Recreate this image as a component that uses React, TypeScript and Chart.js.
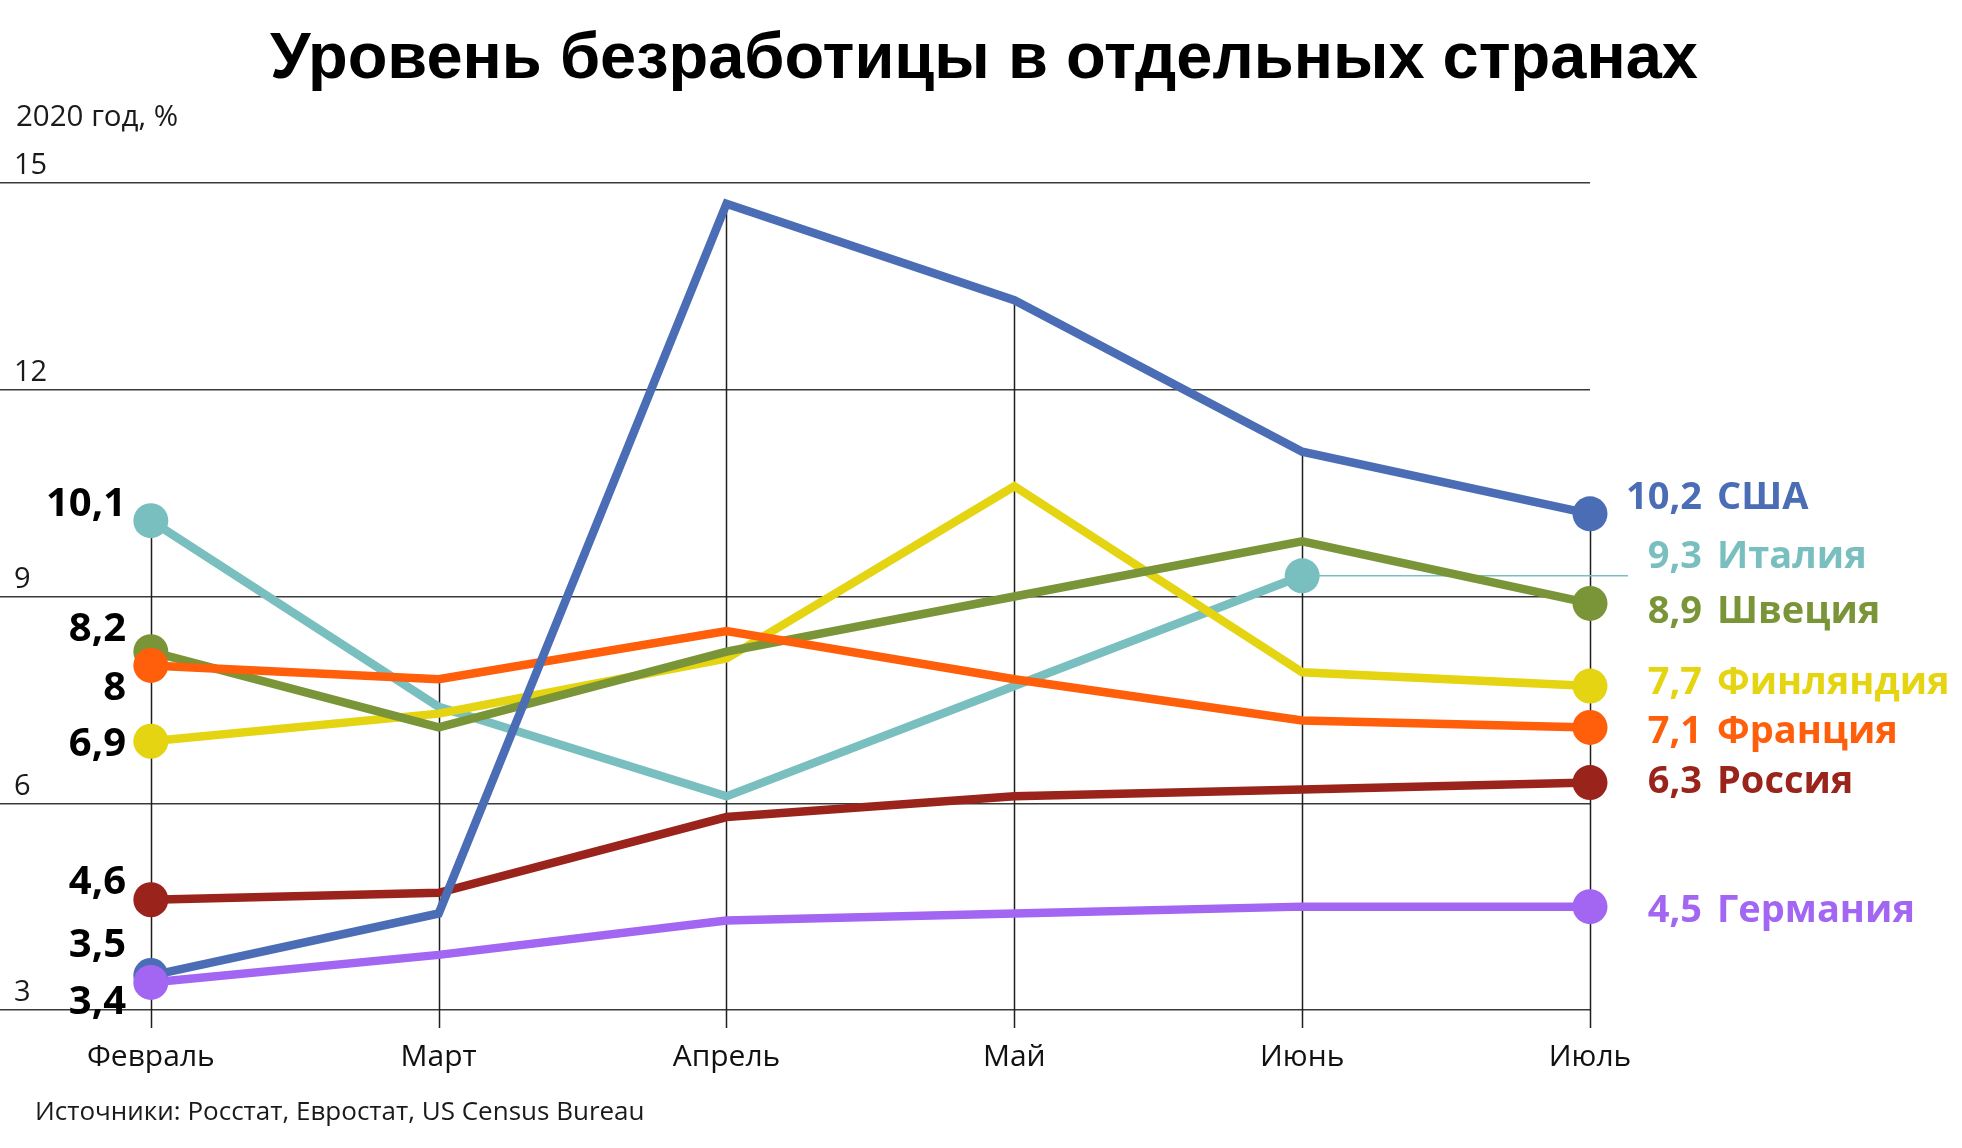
import React, { useEffect, useRef } from 'react';
import { Chart, registerables } from 'chart.js';

Chart.register(...registerables);

// ---------- data ----------
const MONTHS = ['Февраль', 'Март', 'Апрель', 'Май', 'Июнь', 'Июль'];
const Y_MIN = 3;
const Y_MAX = 15;
const Y_STEP = 3;

const GERMANY = [3.4, 3.8, 4.3, 4.4, 4.5, 4.5];
const USA = [3.5, 4.4, 14.7, 13.3, 11.1, 10.2];
const FRANCE = [8.0, 7.8, 8.5, 7.8, 7.2, 7.1];
const SWEDEN = [8.2, 7.1, 8.2, 9.0, 9.8, 8.9];
const FINLAND = [6.9, 7.3, 8.1, 10.6, 7.9, 7.7];
const ITALY = [10.1, 7.4, 6.1, 7.7, 9.3, null];
const RUSSIA = [4.6, 4.7, 5.8, 6.1, 6.2, 6.3];

const TITLE = 'Уровень безработицы в отдельных странах';
const UNIT = '2020 год, %';
const SOURCE = 'Источники: Росстат, Евростат, US Census Bureau';

// ---------- styles ----------
type Series = { name: string; values: (number | null)[]; color: string };
const SERIES: Series[] = [
  { name: 'Германия', values: GERMANY, color: '#a366f2' },
  { name: 'США', values: USA, color: '#4a6db5' },
  { name: 'Франция', values: FRANCE, color: '#ff5e0a' },
  { name: 'Швеция', values: SWEDEN, color: '#7a9438' },
  { name: 'Финляндия', values: FINLAND, color: '#e4d411' },
  { name: 'Италия', values: ITALY, color: '#7abfbf' },
  { name: 'Россия', values: RUSSIA, color: '#9a241b' },
];

// label nudges in px (to avoid overlap, as in the original)
const LEFT_NUDGE: Record<string, number> = {
  'Италия': -16, 'Швеция': -22, 'Франция': 23, 'Финляндия': 3, 'Россия': -17, 'США': -30, 'Германия': 20,
};
const RIGHT_NUDGE: Record<string, number> = {
  'США': -16, 'Италия': -19, 'Швеция': 9, 'Финляндия': -3, 'Франция': 5, 'Россия': 0, 'Германия': 5,
};

const W = 1962;
const H = 1148;
const FONT = "'Open Sans', 'DejaVu Sans', sans-serif";

const fmt = (v: number) => String(v).replace('.', ',');
const lastIdx = (d: (number | null)[]) => {
  for (let i = d.length - 1; i >= 0; i--) if (d[i] != null) return i;
  return -1;
};

const annotPlugin = {
  id: 'annot',
  beforeDatasetsDraw(chart: any) {
    const { ctx, scales, chartArea } = chart;
    const x = scales.x;
    const y = scales.y;
    ctx.save();
    ctx.strokeStyle = '#1f1f1f';
    ctx.lineWidth = 1.5;
    MONTHS.forEach((_, i) => {
      const vals = SERIES.map((s) => s.values[i]).filter((v) => v != null) as number[];
      const top = y.getPixelForValue(Math.max(...vals));
      const px = Math.round(x.getPixelForValue(i)) + 0.5;
      ctx.beginPath();
      ctx.moveTo(px, top);
      ctx.lineTo(px, chartArea.bottom + 18);
      ctx.stroke();
    });
    // leader lines for series ending before the last month
    SERIES.forEach((s) => {
      const li = lastIdx(s.values);
      if (li < MONTHS.length - 1) {
        const py = y.getPixelForValue(s.values[li] as number);
        ctx.strokeStyle = s.color;
        ctx.lineWidth = 1.5;
        ctx.beginPath();
        ctx.moveTo(x.getPixelForValue(li), py);
        ctx.lineTo(1628, py);
        ctx.stroke();
      }
    });
    ctx.restore();
  },
  afterDatasetsDraw(chart: any) {
    const { ctx, scales } = chart;
    const y = scales.y;
    ctx.save();
    // left labels (first month)
    ctx.font = `bold 40px ${FONT}`;
    ctx.textAlign = 'right';
    ctx.textBaseline = 'middle';
    ctx.fillStyle = '#000';
    SERIES.forEach((s) => {
      const v = s.values[0];
      if (v == null) return;
      ctx.fillText(fmt(v), 126, y.getPixelForValue(v) + (LEFT_NUDGE[s.name] || 0));
    });
    // right labels (last value)
    SERIES.forEach((s) => {
      const li = lastIdx(s.values);
      const v = s.values[li] as number;
      const py = y.getPixelForValue(v) + (RIGHT_NUDGE[s.name] || 0);
      ctx.fillStyle = s.color;
      ctx.font = `bold 38px ${FONT}`;
      ctx.textAlign = 'right';
      ctx.fillText(fmt(v), 1702, py);
      ctx.textAlign = 'left';
      ctx.fillText(s.name, 1717, py);
    });
    ctx.restore();
  },
  afterDraw(chart: any) {
    const { ctx } = chart;
    ctx.save();
    ctx.fillStyle = '#000';
    ctx.font = "bold 65px 'Liberation Sans', Arial, sans-serif";
    ctx.textAlign = 'center';
    ctx.textBaseline = 'alphabetic';
    ctx.fillText(TITLE, 984, 78);
    ctx.fillStyle = '#1a1a1a';
    ctx.font = `29.5px ${FONT}`;
    ctx.textAlign = 'left';
    ctx.textBaseline = 'middle';
    ctx.fillText(UNIT, 16, 118);
    ctx.font = `26px ${FONT}`;
    ctx.fillText(SOURCE, 35, 1113);
    ctx.restore();
  },
};

export default function App() {
  const ref = useRef<HTMLCanvasElement>(null);
  useEffect(() => {
    if (!ref.current) return;
    const datasets = SERIES.map((s) => {
      const li = lastIdx(s.values);
      return {
        label: s.name,
        data: s.values.map((v, i) => ({ x: i, y: v })),
        borderColor: s.color,
        backgroundColor: s.color,
        borderWidth: 8.5,
        pointRadius: (c: any) => (c.dataIndex === 0 || c.dataIndex === li ? 17.5 : 0),
        pointHoverRadius: 0,
        pointBorderWidth: 0,
        borderJoinStyle: 'miter' as const,
        tension: 0,
        clip: false as const,
      };
    });
    const chart = new Chart(ref.current, {
      type: 'line',
      data: { datasets },
      options: {
        animation: false,
        responsive: false,
        devicePixelRatio: 1,
        events: [],
        layout: { autoPadding: false, padding: { top: 183, right: W - 1590, bottom: 0, left: 0 } },
        plugins: { legend: { display: false }, tooltip: { enabled: false }, title: { display: false } },
        scales: {
          x: {
            type: 'linear',
            min: -0.524,
            max: MONTHS.length - 1,
            grid: { display: false, drawTicks: false },
            border: { display: false },
            afterBuildTicks: (scale: any) => {
              scale.ticks = MONTHS.map((_, i) => ({ value: i }));
            },
            afterFit: (scale: any) => {
              scale.height = 138;
              scale.paddingLeft = 0;
              scale.paddingRight = 0;
            },
            ticks: {
              autoSkip: false,
              maxRotation: 0,
              padding: 29,
              color: '#111',
              font: { family: FONT, size: 30 },
              callback: (v: any) => MONTHS[v as number] ?? '',
            },
          },
          y: {
            min: Y_MIN,
            max: Y_MAX,
            grid: { color: '#3a3a3a', lineWidth: 1.5, drawTicks: false },
            border: { display: false },
            afterFit: (scale: any) => {
              scale.width = 0;
              scale.paddingTop = 0;
              scale.paddingBottom = 0;
            },
            ticks: {
              stepSize: Y_STEP,
              mirror: true,
              padding: 14,
              labelOffset: -17,
              color: '#1a1a1a',
              font: { family: FONT, size: 29 },
            },
          },
        },
      },
      plugins: [annotPlugin],
    });
    return () => chart.destroy();
  }, []);
  return (
    <div style={{ position: 'absolute', left: 0, top: 0, width: W, height: H, background: '#fff' }}>
      <canvas ref={ref} width={W} height={H} style={{ width: W, height: H, display: 'block' }} />
    </div>
  );
}
